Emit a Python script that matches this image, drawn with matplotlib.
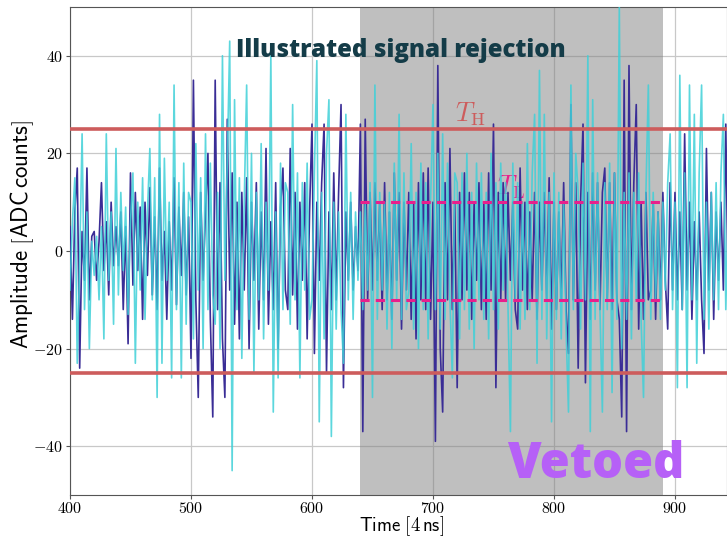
import numpy as np
import matplotlib
matplotlib.use("Agg")
import matplotlib.pyplot as plt
from matplotlib.ticker import FuncFormatter, MultipleLocator

plt.rcParams['mathtext.fontset'] = 'cm'

# samples every 2 time units, 400 ... 958
t_start, t_step = 400, 2
trace_dark = [
    5, -14, 8, 17, -24, 4, -6, 17, -10, 3,
    4, -6, 2, 14, -4, 6, -9, 10, -3, 5,
    -3, 8, -12, 5, -19, 16, -7, 12, -4, 9,
    -14, 10, -5, 13, -9, 7, -12, 17, -6, 4,
    -14, 6, -8, 15, -11, 9, -5, 12, -9, 7,
    -22, 35, -10, -30, 12, -6, 8, 20, -14, -34,
    35, -12, 14, -18, -30, 27, -8, 16, -15, 10,
    -18, 12, -8, 15, -20, 10, -6, 14, -16, 8,
    -10, 21, -15, 6, -12, 14, -20, 9, 17, -8,
    -12, 21, -9, 12, -16, 10, -6, 14, -18, 8,
    26, -21, 10, -6, 14, 26, -25, 8, -12, 16,
    -10, 12, 30, -28, 8, -6, 10, -8, 5, -4,
    26, -37, 27, -10, 12, -8, 14, -6, 10, -12,
    14, -10, 8, -14, 16, -6, 12, -16, 10, -8,
    12, -14, 10, -18, 14, -10, 16, -12, 17, -14,
    10, -39, 38, -20, -33, 14, -10, 21, -12, 10,
    -28, 12, -10, 16, -8, 12, -14, 10, -6, 14,
    -12, 10, -14, 16, -8, 26, -28, 12, -10, 14,
    -10, 12, -6, 10, -12, -16, 17, -8, 10, -12,
    8, -10, 12, -14, 10, -8, 12, -10, 15, -16,
    10, -12, 8, -10, 14, -12, -21, 30, -10, 14,
    -24, 10, 26, -27, 12, -14, 16, -8, 14, -12,
    12, 17, -10, 14, -12, 16, -10, -14, -34, 35,
    -37, 38, -12, 14, 30, -16, 10, -14, 12, -10,
    -8, 10, -14, 8, -10, 12, -6, -16, 14, -8,
    12, -10, 8, -12, 24, -8, 10, -14, 6, -10,
    8, -10, -21, 21, -8, 12, -14, 8, -6, 10,
    -8, 26, -10, 8, -6, 10, -8, 6, -4, 8,
]
trace_cyan = [
    -8, 6, 15, -23, -2, 24, -12, 8, -20, 2,
    -5, 3, -10, 5, -18, 24, -6, 8, -15, 21,
    -9, 12, -4, 9, -13, 6, 16, -23, 10, -8,
    15, -14, 8, 21, -10, 15, -30, 28, -23, 19,
    -6, 10, -26, 34, -12, 14, -26, 18, -15, 12,
    10, -18, 22, -8, 15, -20, 24, -12, 18, -9,
    -15, 12, -20, 40, -6, 18, 43, -45, 31, -12,
    15, -22, 10, 34, -14, 20, -25, 12, -10, 22,
    -18, 10, -8, 40, -33, 8, -26, 18, -12, 14,
    12, -15, 30, -10, 16, -26, 14, -8, 18, -14,
    -10, 16, 39, -35, 12, -18, 20, 31, -38, 10,
    -16, 8, -12, -23, 28, -10, 12, -14, 8, -6,
    8, -12, 10, -8, 14, -30, 34, -14, 12, -8,
    10, -16, 12, -20, 18, -10, 28, -14, 16, -12,
    -8, 22, -16, 12, -20, 18, -12, 14, -18, 10,
    30, -12, 20, -16, 24, -14, 18, -10, -26, 16,
    14, -18, 16, -12, 20, -16, 12, -20, 18, -10,
    16, -14, 12, -18, 20, -12, 14, -16, 18, -8,
    14, -12, -37, 18, -10, 14, -16, 10, -14, 22,
    -12, 16, 28, -23, 37, -14, 28, -18, 12, -35,
    16, -14, 12, -18, 10, -16, -33, 34, -12, 20,
    12, -16, 18, -10, 40, -37, 31, -14, 16, -12,
    -33, 14, -12, 18, -29, 16, -14, 50, -20, 12,
    -14, 16, -18, 12, -10, 16, -14, -30, 12, 34,
    -14, 12, -10, 8, -14, 10, -8, 14, 24, -12,
    10, -28, 36, -12, 16, -28, 34, -10, 28, -23,
    16, 34, -14, 10, -16, 12, -10, 14, -12, 16,
    28, -12, 10, -8, 12, -10, 8, -6, 10, -8,
]
time = t_start + t_step * np.arange(len(trace_dark))

veto_window = (640, 890)
t_high = 25
t_low = 10

fig = plt.figure(figsize=(7.27, 5.38), dpi=100)
ax = fig.add_axes([70 / 727, 43 / 538, 657 / 727, 488 / 538])

ax.axvspan(*veto_window, color='gray', alpha=0.5, lw=0, zorder=1)
ax.plot(time, trace_dark, color='#3a2d96', lw=1.2, zorder=3)
ax.plot(time, trace_cyan, color='#3fd0d8', lw=1.2, alpha=0.85, zorder=4)

ax.axhline(t_high, color='#cd5c5c', lw=2.6, zorder=5)
ax.axhline(-t_high, color='#cd5c5c', lw=2.6, zorder=5)
ax.hlines([t_low, -t_low], *veto_window, color='#e8208c', lw=2.2,
          linestyles=(0, (3, 2)), zorder=5)

ax.text(731, 28, r'$T_\mathrm{H}$', color='#cd5c5c', fontsize=19,
        ha='center', va='center', zorder=2)
ax.text(753, 13, r'$T_\mathrm{L}$', color='#e8208c', fontsize=19,
        ha='left', va='center', zorder=2)

ax.text(673, 41, 'Illustrated signal rejection', family='Open Sans',
        weight='heavy', fontsize=17.3, color='#143c48', ha='center',
        va='center', zorder=6)
ax.text(761, -46.5, 'Vetoed', family='Open Sans', weight='heavy',
        fontsize=35, color='#b660f7', ha='left', va='baseline', zorder=6)

ax.set_xlim(400, 943)
ax.set_ylim(-50, 50)
ax.xaxis.set_major_locator(MultipleLocator(100))
ax.yaxis.set_major_locator(MultipleLocator(20))
fmt = FuncFormatter(lambda v, p: rf'${v:g}$')
ax.xaxis.set_major_formatter(fmt)
ax.yaxis.set_major_formatter(fmt)
ax.tick_params(labelsize=11.5, length=3, pad=2, color='#555555')
ax.tick_params(axis='x', pad=1)
ax.grid(True, color='#c8c8c8', lw=0.9, zorder=0)
ax.set_axisbelow(True)
for s in ax.spines.values():
    s.set_color('#555555')

fig.text(402 / 727, 12 / 538, r'$\mathsf{Time\ [4\,ns]}$', fontsize=13.5,
         ha='center', va='center')
fig.text(22 / 727, 304 / 538, r'$\mathsf{Amplitude\ [ADC\,counts]}$',
         fontsize=16.5, rotation=90, ha='center', va='center')

fig.savefig('out.png', dpi=100)
